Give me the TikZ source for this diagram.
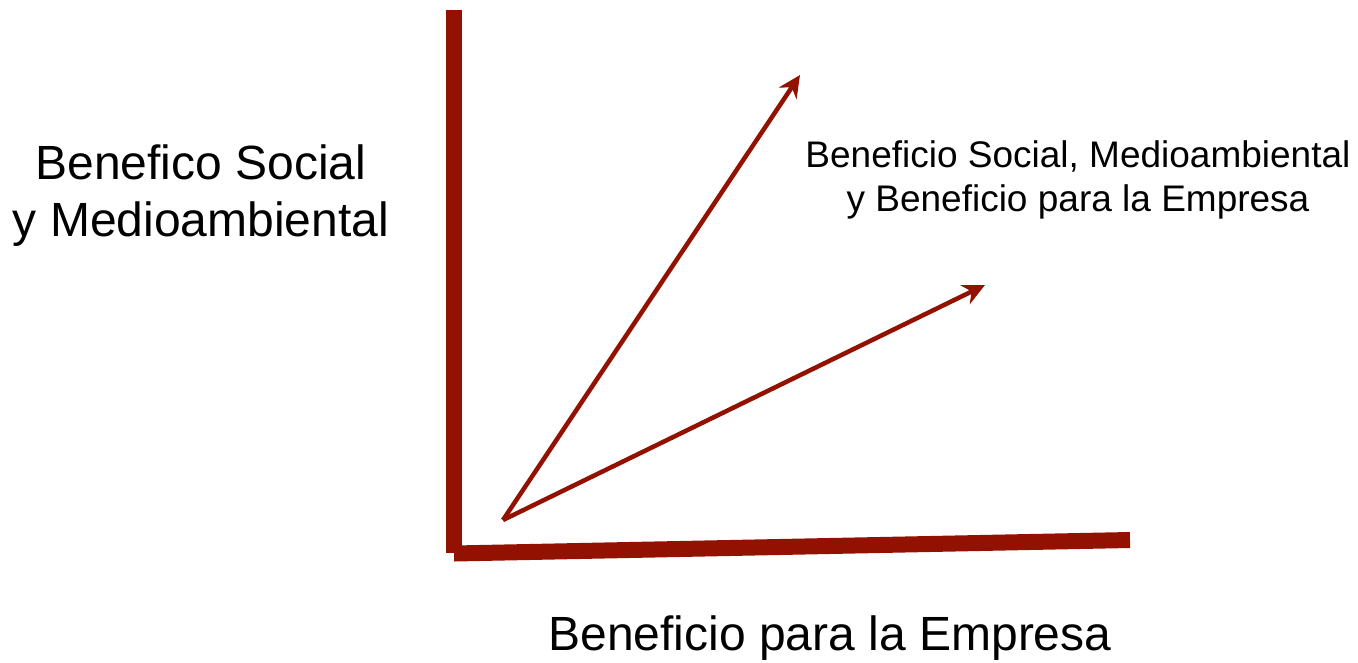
\documentclass[tikz,border=0pt]{standalone}
\usepackage{fontspec}
\setmainfont{Liberation Sans}
\usetikzlibrary{arrows.meta}
\definecolor{axisred}{RGB}{146,17,0}
\begin{document}
\begin{tikzpicture}[x=1pt,y=-1pt]
\useasboundingbox (0,0) rectangle (1358,662);
\coordinate (top) at (454,10);
\coordinate (corner) at (454,553.5);
\coordinate (right) at (1130,540);
\coordinate (o) at (503,520);
\coordinate (1) at (800,75);
\coordinate (2) at (985,285);

\node[align=center, font=\fontsize{48}{57}\selectfont] (ylabel) at (201,196) {Benefico Social\\y Medioambiental};
\node[align=center, font=\fontsize{37}{44}\selectfont] (both) at (1078,180) {Beneficio Social, Medioambiental\\y Beneficio para la Empresa};
\node[font=\fontsize{48}{57}\selectfont] (xlabel) at (830,638) {Beneficio para la Empresa};

\path[draw,axisred,line width=16] (top) -- (454,553);
\path[draw,axisred,line width=16] (corner) -- (right);
\path[draw,axisred,line width=4.5,-{Stealth[length=22,width=21]}] (o) -- (1);
\path[draw,axisred,line width=4.5,-{Stealth[length=22,width=21]}] (o) -- (2);
\end{tikzpicture}
\end{document}
